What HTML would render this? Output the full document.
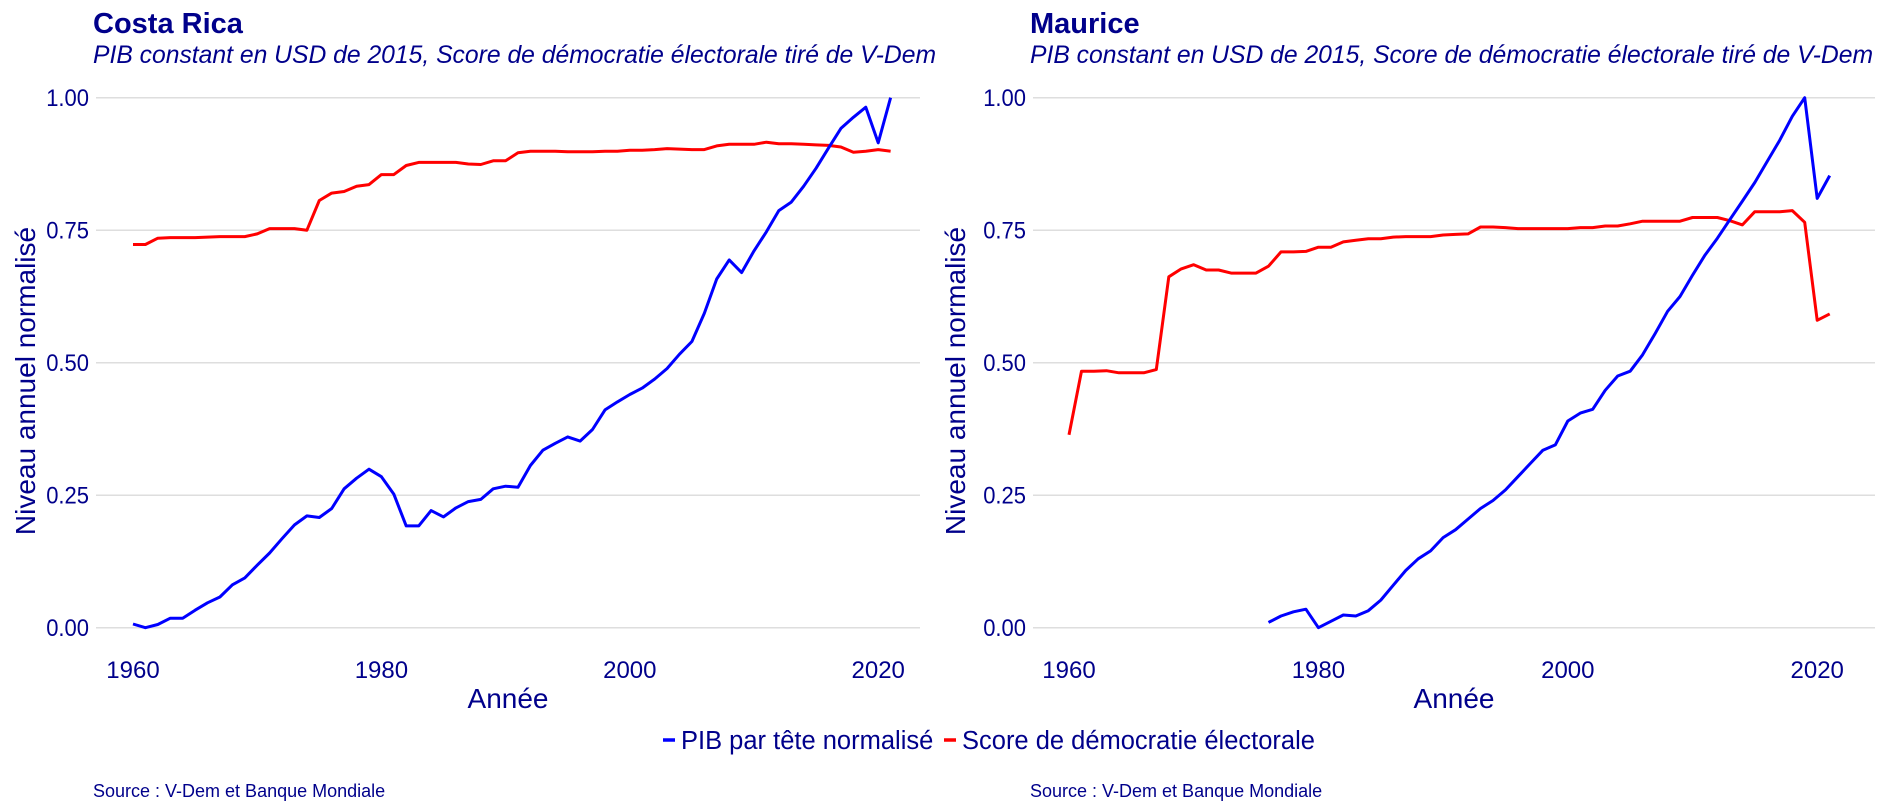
<!DOCTYPE html>
<html><head><meta charset="utf-8">
<style>
html,body{margin:0;padding:0;background:#fff;}
svg{display:block;font-family:"Liberation Sans",sans-serif;}
</style></head>
<body>
<svg id="chart" width="1885" height="812" viewBox="0 0 1885 812">
  <g id="panel-left"></g>
  <g id="panel-right"></g>
  <g>
    <line x1="663" y1="740" x2="675" y2="740" stroke="#0000ff" stroke-width="3.5"/>
    <text x="681" y="749" font-size="25.5" fill="#00008b">PIB par tête normalisé</text>
    <line x1="944" y1="740" x2="956" y2="740" stroke="#ff0000" stroke-width="3.5"/>
    <text x="962" y="749" font-size="25.5" fill="#00008b">Score de démocratie électorale</text>
  </g>
</svg>
<script>
const years = [];
for (let y = 1960; y <= 2021; y++) years.push(y);
const crYears = years;
const crPib = [0.007,0.0,0.006,0.018,0.018,0.033,0.047,0.058,0.081,0.094,0.118,0.141,0.168,0.194,0.211,0.208,0.225,0.262,0.282,0.299,0.285,0.252,0.192,0.192,0.221,0.209,0.226,0.238,0.242,0.262,0.267,0.265,0.306,0.335,0.348,0.360,0.352,0.374,0.411,0.426,0.440,0.452,0.469,0.489,0.516,0.540,0.593,0.658,0.694,0.670,0.711,0.747,0.787,0.803,0.833,0.867,0.905,0.942,0.963,0.982,0.915,1.0];
const crDemo = [0.723,0.723,0.735,0.736,0.736,0.736,0.737,0.738,0.738,0.738,0.743,0.753,0.753,0.753,0.750,0.806,0.820,0.823,0.833,0.836,0.855,0.855,0.872,0.878,0.878,0.878,0.878,0.875,0.874,0.881,0.881,0.896,0.899,0.899,0.899,0.898,0.898,0.898,0.899,0.899,0.901,0.901,0.902,0.904,0.903,0.902,0.902,0.909,0.912,0.912,0.912,0.916,0.913,0.913,0.912,0.911,0.910,0.907,0.897,0.899,0.902,0.899];
const muPibYears = [1976,1977,1978,1979,1980,1981,1982,1983,1984,1985,1986,1987,1988,1989,1990,1991,1992,1993,1994,1995,1996,1997,1998,1999,2000,2001,2002,2003,2004,2005,2006,2007,2008,2009,2010,2011,2012,2013,2014,2015,2016,2017,2018,2019,2020,2021];
const muPib = [0.010,0.022,0.030,0.035,0.0,0.012,0.024,0.022,0.032,0.052,0.080,0.108,0.130,0.145,0.170,0.185,0.205,0.225,0.240,0.260,0.285,0.310,0.335,0.345,0.390,0.405,0.412,0.448,0.475,0.484,0.515,0.555,0.597,0.625,0.665,0.703,0.735,0.770,0.805,0.840,0.880,0.920,0.965,1.0,0.810,0.853];
const muDemo = [0.364,0.484,0.484,0.485,0.481,0.481,0.481,0.487,0.662,0.677,0.685,0.675,0.675,0.669,0.669,0.669,0.682,0.709,0.709,0.710,0.718,0.718,0.728,0.731,0.734,0.734,0.737,0.738,0.738,0.738,0.741,0.742,0.743,0.756,0.756,0.755,0.753,0.753,0.753,0.753,0.753,0.755,0.755,0.758,0.758,0.762,0.767,0.767,0.767,0.767,0.774,0.774,0.774,0.768,0.760,0.785,0.785,0.785,0.787,0.765,0.580,0.592];
const yTicks = [0, 0.25, 0.5, 0.75, 1.0];
const yTickLabels = ["0.00","0.25","0.50","0.75","1.00"];
const xTicks = [1960, 1980, 2000, 2020];

const NS = "http://www.w3.org/2000/svg";
function mk(parent, tag, attrs, text) {
  const e = document.createElementNS(NS, tag);
  for (const k in attrs) e.setAttribute(k, attrs[k]);
  if (text !== undefined) e.textContent = text;
  parent.appendChild(e);
  return e;
}

function drawPanel(g, cfg) {
  const x = yr => cfg.x0 + (yr - 1960) * cfg.perYear;
  const y = v => 627.7 - v * 530;
  const t = mk(g, "text", {x: cfg.titleX, y: 33, "font-size": 29, "font-weight": "bold", fill: "#00008b"}, cfg.title);
  
  
  const st = mk(g, "text", {x: cfg.titleX, y: 63, "font-size": 24.7, "font-style": "italic", fill: "#00008b"}, "PIB constant en USD de 2015, Score de démocratie électorale tiré de V-Dem");
  
  
  yTicks.forEach((v, i) => {
    const gl = mk(g, "line", {x1: cfg.left, x2: cfg.right, y1: y(v), y2: y(v), stroke: "#dedede", "stroke-width": 1.5});
    
    
    const tl = mk(g, "text", {x: cfg.left - 7, y: y(v) + 8.5, "font-size": 22, "text-anchor": "end", fill: "#00008b", transform: "translate(" + (cfg.left - 7) + ",0) scale(1,1.09) translate(" + (-(cfg.left - 7)) + ",0)"}, yTickLabels[i]);
    tl.setAttribute('transform', "translate(0," + (-(y(v) + 8.5) * 0.09) + ") scale(1,1.09)");
    
    
  });
  xTicks.forEach(yr => {
    const tl = mk(g, "text", {x: x(yr), y: 678, "font-size": 24, "text-anchor": "middle", fill: "#00008b"}, String(yr));
    
    
  });
  const xt = mk(g, "text", {x: (cfg.left + cfg.right) / 2, y: 708, "font-size": 28, "text-anchor": "middle", fill: "#00008b"}, "Année");
  
  
  const yt = mk(g, "text", {x: 0, y: 0, "font-size": 28, "text-anchor": "middle", fill: "#00008b", transform: "translate(" + cfg.yTitleX + ",381) rotate(-90)"}, "Niveau annuel normalisé");
  
  
  const pts = (xs, vs) => xs.map((yr, i) => x(yr).toFixed(1) + "," + y(vs[i]).toFixed(1)).join(" ");
  const r = mk(g, "polyline", {points: pts(years, cfg.demo), fill: "none", stroke: "#ff0000", "stroke-width": 3, "stroke-linejoin": "round"});
  
  
  const b = mk(g, "polyline", {points: pts(cfg.pibYears, cfg.pib), fill: "none", stroke: "#0000ff", "stroke-width": 3, "stroke-linejoin": "round"});
  
  
  const s = mk(g, "text", {x: cfg.titleX, y: 797, "font-size": 18, fill: "#00008b"}, "Source : V-Dem et Banque Mondiale");
  
  
}

drawPanel(document.getElementById("panel-left"), {
  title: "Costa Rica", titleX: 93, x0: 133, perYear: 12.42, left: 96, right: 920, yTitleX: 35,
  pibYears: crYears, pib: crPib, demo: crDemo
});
drawPanel(document.getElementById("panel-right"), {
  title: "Maurice", titleX: 1030, x0: 1069, perYear: 12.47, left: 1033, right: 1875, yTitleX: 965,
  pibYears: muPibYears, pib: muPib, demo: muDemo
});
</script>
</body></html>
